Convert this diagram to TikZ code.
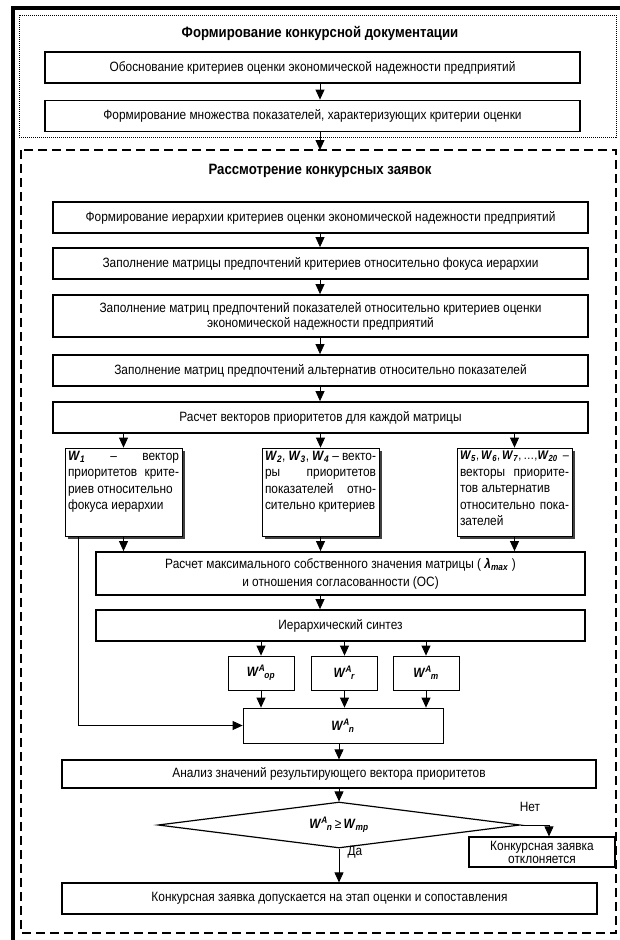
\documentclass[tikz,border=0pt]{standalone}
\usepackage{amsmath}
\usepackage{fontspec}
\setmainfont{Liberation Sans}[FakeStretch=0.88]
\usetikzlibrary{arrows.meta,shapes.geometric,shadows}
\newcommand{\wbf}{\textbf{\textit{W}}}
\newcommand{\wsub}[1]{\wbf\textsubscript{\textbf{\textit{#1}}}}
\newcommand{\wsupsub}[2]{\wbf\textsuperscript{\textbf{\textit{#1}}}\kern-1pt\textsubscript{\textbf{\textit{#2}}}}
\newcommand{\lmax}{\textbf{\textit{λ}}\textsubscript{\textbf{\textit{max}}}}
\newcommand{\justrow}[1]{\hbox to\hsize{#1}}
\newcommand{\leftrow}[1]{\hbox to\hsize{#1\hfil}}
\begin{document}
\begin{tikzpicture}[x=1pt,y=-1pt,
  every node/.style={font=\fontsize{13.5}{15}\selectfont},
  bigtitle/.style={font=\bfseries\fontsize{15}{17}\selectfont},
  mainbox/.style={draw,line width=1.8pt,minimum width=535pt,minimum height=31pt,inner sep=2pt},
  midbox/.style={draw,line width=1.2pt,minimum width=535pt,minimum height=31pt,inner sep=2pt},
  hbox/.style={draw,fill=white,line width=0.8pt,inner sep=3pt,
    drop shadow={shadow xshift=3pt,shadow yshift=-3pt,fill=black!75,opacity=1}},
  wbox/.style={draw,line width=0.8pt,minimum width=66pt,minimum height=34pt,inner sep=2pt},
  decision/.style={draw,diamond,aspect=8,line width=1.2pt,minimum width=362pt,minimum height=46pt,inner sep=0pt},
  arr/.style={-{Triangle[length=10pt,width=9pt]},line width=0.8pt}]
\useasboundingbox (0,0) rectangle (620,940);
% page edge
\draw[line width=4pt] (13,940) -- (13,7.5) -- (620,7.5);
% stage frames
\draw[line width=1pt,dash pattern=on 1pt off 1pt] (19,15) rectangle (616,137);
\draw[line width=1.2pt,dash pattern=on 9pt off 5pt] (21,150) rectangle (616,933);
\coordinate (mid) at (320,0);
\coordinate (frametop) at (320,150);
\coordinate (nx) at (549,0);

\node[bigtitle] (t1) at (320,33) {Формирование конкурсной документации};
\node[mainbox] (A) at (312.5,67.5) {Обоснование критериев оценки экономической надежности предприятий};
\node[mainbox] (B) at (312.5,116) {Формирование множества показателей, характеризующих критерии оценки};

\node[bigtitle] (t2) at (320,171) {Рассмотрение конкурсных заявок};
\node[mainbox] (C) at (320.5,217.5) {Формирование иерархии критериев оценки экономической надежности предприятий};
\node[mainbox] (D) at (320.5,263.5) {Заполнение матрицы предпочтений критериев относительно фокуса иерархии};
\node[mainbox,minimum height=42pt,align=center] (E) at (320.5,316) {Заполнение матриц предпочтений показателей относительно критериев оценки\\экономической надежности предприятий};
\node[mainbox] (F) at (320.5,370.5) {Заполнение матриц предпочтений альтернатив относительно показателей};
\node[mainbox] (G) at (320.5,417.5) {Расчет векторов приоритетов для каждой матрицы};

% vectors of priorities
\node[hbox] (H1) at (123.5,492) {\begin{minipage}[c][82pt][t]{111pt}\baselineskip=16.5pt
  \justrow{\wsub{1} – вектор}
  \justrow{приоритетов крите-}
  \leftrow{риев относительно}
  \leftrow{фокуса иерархии}\end{minipage}};
\node[hbox] (H2) at (320.5,492) {\begin{minipage}[c][82pt][t]{111pt}\baselineskip=16.5pt
  \justrow{\wsub{2}, \wsub{3}, \wsub{4} – векто-}
  \justrow{ры приоритетов}
  \justrow{показателей отно-}
  \leftrow{сительно критериев}\end{minipage}};
\node[hbox] (H3) at (514.5,492) {\begin{minipage}[c][82pt][t]{109pt}\baselineskip=16.5pt
  \justrow{\fontsize{12.5}{15}\selectfont\wsub{5},\kern2pt\wsub{6},\kern2pt\wsub{7},\kern2pt…,\wsub{20}\hfil–}
  \justrow{векторы приорите-}
  \leftrow{тов альтернатив}
  \justrow{относительно пока-}
  \leftrow{зателей}\end{minipage}};

\node[mainbox,minimum width=489pt,minimum height=43pt,align=center] (I) at (340.5,573.5) {Расчет максимального собственного значения матрицы ( \lmax\ )\\[3pt]и отношения согласованности (ОС)};
\node[mainbox,minimum width=489pt] (J) at (340.5,625.5) {Иерархический синтез};

\node[wbox] (K1) at (261,673) {\wsupsub{A}{op}};
\node[wbox] (K2) at (344.5,673) {\wsupsub{A}{r}};
\node[wbox] (K3) at (426,673) {\wsupsub{A}{m}};
\node[wbox,minimum width=200pt,minimum height=35pt] (L) at (343,725.5) {\wsupsub{A}{n}};

\node[midbox,minimum width=534pt,minimum height=28pt] (M) at (329,774) {Анализ значений результирующего вектора приоритетов};
\node[decision] (Q) at (339,825) {\wsupsub{A}{n}\,≥\,\wsub{mp}};
\node[midbox,minimum width=146pt,minimum height=30pt,align=center,font=\fontsize{13.5}{13}\selectfont] (N) at (542,852) {Конкурсная заявка\\отклоняется};
\node[midbox,minimum width=535pt] (O) at (329.5,898.5) {Конкурсная заявка допускается на этап оценки и сопоставления};
\node (no) at (530,807) {Нет};
\node (yes) at (355,852) {Да};

% connectors
\draw[arr] (A.south -| mid) -- (B.north -| mid);
\draw[arr] (B.south -| mid) -- (frametop);
\draw[arr] (C.south -| mid) -- (D.north -| mid);
\draw[arr] (D.south -| mid) -- (E.north -| mid);
\draw[arr] (E.south -| mid) -- (F.north -| mid);
\draw[arr] (F.south -| mid) -- (G.north -| mid);
\foreach \h in {H1,H2,H3} {
  \draw[arr] (G.south -| \h) -- (\h.north);
  \draw[arr] (\h.south) -- (I.north -| \h);
}
\draw[arr] (I.south -| mid) -- (J.north -| mid);
\foreach \k in {K1,K2,K3} {
  \draw[arr] (J.south -| \k) -- (\k.north);
  \draw[arr] (\k.south) -- (L.north -| \k);
}
\draw[arr] ([xshift=-45.5pt]H1.south) |- (L.west);
\draw[arr] (L.south -| Q) -- (M.north -| Q);
\draw[arr] (M.south -| Q) -- (Q.north);
\draw[arr] (Q.east) -| (N.north -| nx);
\draw[arr] (Q.south) -- (O.north -| Q);
\end{tikzpicture}
\end{document}
